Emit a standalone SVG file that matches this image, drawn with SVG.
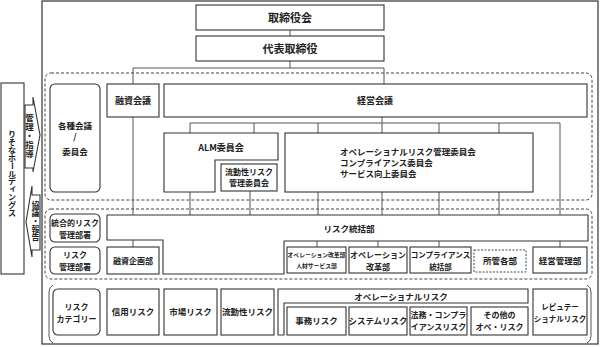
<svg xmlns="http://www.w3.org/2000/svg" width="600" height="347" viewBox="0 0 600 347">
<style>
.t{font-family:"Noto Sans CJK JP","Noto Sans",sans-serif;font-weight:bold;fill:#222;text-anchor:middle}
.b{fill:#fff;stroke:#333;stroke-width:1.1}
.c{fill:none;stroke:#555;stroke-width:1}
.d{fill:none;stroke:#444;stroke-width:1;stroke-dasharray:3 2}
</style>
<rect x="42" y="1" width="556" height="343" fill="#fff" stroke="#333" stroke-width="1.2"/>
<rect class="d" x="45" y="73" width="547" height="127" rx="6"/>
<rect class="d" x="45" y="209" width="547" height="70" rx="6"/>
<g id="brackets">
<path class="c" d="M53,285 Q49,287 49,292 L49,336 Q49,341 53,343"/>
<path class="c" d="M587,285 Q591,287 591,292 L591,336 Q591,341 587,343"/>
</g>
<g id="connectors">
<path class="c" d="M290,30V36M290,61V68M133,84V68H384V84"/>
<path class="c" d="M382,117V123M190,133V123H560V215M254,123V133M318,123V133M382,123V133M439,123V133M499,123V133"/>
<path class="c" d="M133,117V247M190,192V215M250,191V215M318,192V215M382,192V215M439,192V215M499,192V215"/>
<path class="c" d="M317,241V247M378,241V247M439,241V247M560,241V247"/>
</g>
<g id="holdings">
<rect class="b" x="1" y="83" width="23" height="191"/>
<text class="t" font-size="8" x="12 12 12 12" y="137 144.9 152.8 160.7">りそなホ</text>
<text class="t" font-size="8" x="12" y="168.6" transform="rotate(90 12 165.8)">ー</text>
<text class="t" font-size="8" x="12 12 13 12 12 12" y="176.5 184.4 191.3 200.2 208.1 216">ルディングス</text>
</g>
<g id="arrow-down">
<polygon class="b" points="25,105 33,105 33,97 40,135 33,172 33,168 25,168"/>
<text class="t" font-size="8.5" x="29.5 29.5 29.5 29.5 29.5" y="120.5 129.5 138.5 147.5 156.5">管理・指導</text>
</g>
<g id="arrow-up">
<polygon class="b" points="40,195 32,195 32,186 26,222 32,257 32,250 40,250"/>
<text class="t" font-size="8" x="35.5 35.5 35.5 35.5 35.5" y="208 216 224 232 240">協議・報告</text>
</g>
<g id="board">
<rect class="b" x="196" y="5" width="188" height="25"/>
<text class="t" x="290" y="21.5" font-size="11">取締役会</text>
</g>
<g id="ceo">
<rect class="b" x="196" y="36" width="188" height="25"/>
<text class="t" x="290" y="52.5" font-size="11">代表取締役</text>
</g>
<g id="kaigi">
<rect class="b" x="50" y="84" width="50" height="108" rx="5"/>
<text class="t" x="75" y="129" font-size="8.5">各種会議</text>
<text class="t" x="75" y="140" font-size="8.5">/</text>
<text class="t" x="75" y="155" font-size="8.5">委員会</text>
</g>
<g id="yushi-kaigi">
<rect class="b" x="107" y="84" width="52" height="33"/>
<text class="t" x="133" y="104" font-size="9">融資会議</text>
</g>
<g id="keiei-kaigi">
<rect class="b" x="164" y="84" width="423" height="33"/>
<text class="t" x="375" y="104" font-size="9">経営会議</text>
</g>
<g id="alm">
<polygon class="b" points="164,133 278,133 278,160 215,160 215,192 164,192"/>
<text class="t" x="221" y="151" font-size="9">ALM委員会</text>
</g>
<g id="ryudosei-iinkai">
<rect class="b" x="221" y="164" width="56" height="27"/>
<text class="t" x="249" y="175" font-size="8">流動性リスク</text>
<text class="t" x="249" y="186" font-size="8">管理委員会</text>
</g>
<g id="op-iinkai">
<rect class="b" x="285" y="133" width="248" height="59"/>
<text class="t" x="340" y="155" font-size="8.5" style="text-anchor:start">オペレーショナルリスク管理委員会</text>
<text class="t" x="340" y="166" font-size="8.5" style="text-anchor:start">コンプライアンス委員会</text>
<text class="t" x="340" y="177" font-size="8.5" style="text-anchor:start">サービス向上委員会</text>
</g>
<g id="togo">
<rect class="b" x="50" y="214" width="50" height="28" rx="5"/>
<text class="t" x="75" y="226" font-size="8">統合的リスク</text>
<text class="t" x="75" y="237.5" font-size="8">管理部署</text>
</g>
<g id="risk-kanri">
<rect class="b" x="50" y="247" width="50" height="27" rx="5"/>
<text class="t" x="75" y="258" font-size="8">リスク</text>
<text class="t" x="75" y="270" font-size="8">管理部署</text>
</g>
<g id="risk-tokatsu">
<polygon class="b" points="107,215 588,215 588,241 284,241 284,274 163,274 163,240 107,240"/>
<text class="t" x="349" y="232" font-size="8.5">リスク統括部</text>
</g>
<g id="yushi-kikaku">
<rect class="b" x="107" y="247" width="52" height="27"/>
<text class="t" x="133" y="264" font-size="8">融資企画部</text>
</g>
<g id="op-jinzai">
<rect class="b" x="287" y="247" width="59" height="26"/>
<text class="t" x="316.5" y="257" font-size="5.8">オペレーション改革部</text>
<text class="t" x="316.5" y="268" font-size="5.8">人材サービス部</text>
</g>
<g id="op-kaikaku">
<rect class="b" x="349" y="247" width="58" height="26"/>
<text class="t" x="378" y="258" font-size="8">オペレーション</text>
<text class="t" x="378" y="270" font-size="8">改革部</text>
</g>
<g id="compliance">
<rect class="b" x="410" y="247" width="61" height="26"/>
<text class="t" x="440.5" y="258" font-size="7.5">コンプライアンス</text>
<text class="t" x="440.5" y="270" font-size="7.5">統括部</text>
</g>
<g id="shokan">
<rect x="474" y="250" width="52" height="22" fill="#fff" stroke="#444" stroke-dasharray="2 1.5"/>
<text class="t" x="500" y="264" font-size="8.5">所管各部</text>
</g>
<g id="keiei-kanri">
<rect class="b" x="533" y="247" width="54" height="26"/>
<text class="t" x="560" y="264" font-size="8.5">経営管理部</text>
</g>
<g id="category">
<rect class="b" x="53" y="289" width="47" height="46" rx="5"/>
<text class="t" x="76.5" y="310" font-size="8">リスク</text>
<text class="t" x="76.5" y="321.5" font-size="8">カテゴリー</text>
</g>
<g id="shinyo">
<rect class="b" x="107" y="289" width="52" height="46"/>
<text class="t" x="133" y="315" font-size="8.5">信用リスク</text>
</g>
<g id="shijo">
<rect class="b" x="164" y="289" width="53" height="46"/>
<text class="t" x="190.5" y="315" font-size="8.5">市場リスク</text>
</g>
<g id="ryudosei">
<rect class="b" x="221" y="289" width="53" height="46"/>
<text class="t" x="247.5" y="315" font-size="8.5">流動性リスク</text>
</g>
<g id="op-risk">
<polygon class="b" points="278,289 528,289 528,303 284,303 284,335 278,335"/>
<text class="t" x="401" y="299.5" font-size="8.5">オペレーショナルリスク</text>
</g>
<g id="jimu">
<rect class="b" x="287" y="307" width="59" height="28"/>
<text class="t" x="316.5" y="324" font-size="8.5">事務リスク</text>
</g>
<g id="system">
<rect class="b" x="349" y="307" width="58" height="28"/>
<text class="t" x="378" y="324" font-size="8.5">システムリスク</text>
</g>
<g id="homu">
<rect class="b" x="410" y="307" width="57" height="28"/>
<text class="t" x="438.5" y="318" font-size="8">法務・コンプラ</text>
<text class="t" x="438.5" y="330" font-size="8">イアンスリスク</text>
</g>
<g id="sonota">
<rect class="b" x="471" y="307" width="57" height="28"/>
<text class="t" x="499.5" y="318" font-size="8">その他の</text>
<text class="t" x="499.5" y="330" font-size="8">オペ・リスク</text>
</g>
<g id="reputation">
<rect class="b" x="533" y="289" width="54" height="46"/>
<text class="t" x="560" y="310" font-size="7.5">レピュテー</text>
<text class="t" x="560" y="321.5" font-size="7.5">ショナルリスク</text>
</g>
</svg>
